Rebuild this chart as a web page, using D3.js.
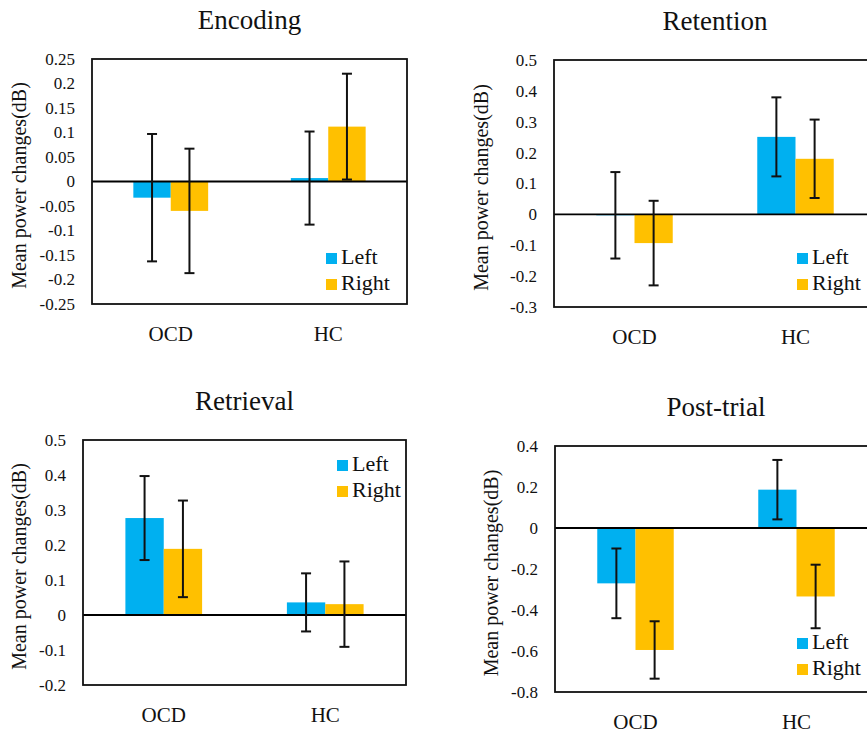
<!DOCTYPE html>
<html>
<head>
<meta charset="utf-8">
<script src="https://cdn.jsdelivr.net/npm/d3@7"></script>
<style>
  body { margin: 0; background: #fff; }
  svg { display: block; overflow: hidden; }
  text { font-family: 'Liberation Serif', 'Times New Roman', serif; fill: #111; }
</style>
</head>
<body>
<svg id="chart" width="867" height="733"></svg>
<script>
const categories = ['OCD', 'HC'];
const series = ['Left', 'Right'];
const seriesColors = ['#00B0F0', '#FFC000'];

// means and error bar half-lengths, per panel, [OCD, HC]
const encodingLeft = [-0.033, 0.007];
const encodingRight = [-0.06, 0.112];
const encodingLeftErr = [0.13, 0.095];
const encodingRightErr = [0.127, 0.108];
const encodingTicks = [0.25, 0.2, 0.15, 0.1, 0.05, 0, -0.05, -0.1, -0.15, -0.2, -0.25];

const retentionLeft = [-0.003, 0.251];
const retentionRight = [-0.093, 0.18];
const retentionLeftErr = [0.14, 0.128];
const retentionRightErr = [0.137, 0.127];
const retentionTicks = [0.5, 0.4, 0.3, 0.2, 0.1, 0, -0.1, -0.2, -0.3];

const retrievalLeft = [0.277, 0.036];
const retrievalRight = [0.189, 0.031];
const retrievalLeftErr = [0.12, 0.083];
const retrievalRightErr = [0.138, 0.122];
const retrievalTicks = [0.5, 0.4, 0.3, 0.2, 0.1, 0, -0.1, -0.2];

const postLeft = [-0.27, 0.187];
const postRight = [-0.595, -0.334];
const postLeftErr = [0.17, 0.145];
const postRightErr = [0.14, 0.155];
const postTicks = [0.4, 0.2, 0, -0.2, -0.4, -0.6, -0.8];

const yLabel = 'Mean power changes(dB)';
const serif = "'Liberation Serif', 'Times New Roman', serif";

const panels = [
  { title: 'Encoding', means: [encodingLeft, encodingRight], errs: [encodingLeftErr, encodingRightErr], ticks: encodingTicks,
    x: 92, y: 59, w: 315, h: 245, labelX: 26, legend: [326, 253] },
  { title: 'Retention', means: [retentionLeft, retentionRight], errs: [retentionLeftErr, retentionRightErr], ticks: retentionTicks,
    x: 554, y: 60, w: 322, h: 247, labelX: 488, legend: [797, 253] },
  { title: 'Retrieval', means: [retrievalLeft, retrievalRight], errs: [retrievalLeftErr, retrievalRightErr], ticks: retrievalTicks,
    x: 83, y: 440, w: 323, h: 245, labelX: 26, legend: [337, 460] },
  { title: 'Post-trial', means: [postLeft, postRight], errs: [postLeftErr, postRightErr], ticks: postTicks,
    x: 555, y: 446, w: 322, h: 246, labelX: 498, legend: [797, 638] }
];

const svg = d3.select('#chart');
const fmt = d => String(+d.toFixed(2));

panels.forEach(p => {
  const g = svg.append('g').attr('font-family', serif);

  const x0 = d3.scaleBand().domain(categories).range([p.x, p.x + p.w]);
  const groupW = x0.bandwidth() * 0.475;
  const x1 = d3.scaleBand().domain(series)
      .range([x0.bandwidth() / 2 - groupW / 2, x0.bandwidth() / 2 + groupW / 2]);
  const y = d3.scaleLinear().domain(d3.extent(p.ticks)).range([p.y + p.h, p.y]);

  // title
  g.append('text')
      .attr('x', p.x + p.w / 2)
      .attr('y', p.y - 30)
      .attr('text-anchor', 'middle')
      .style('font-family', serif)
      .style('font-size', '27px')
      .text(p.title);

  // y axis, labels only
  const yAxis = g.append('g')
      .attr('transform', `translate(${p.x},0)`)
      .call(d3.axisLeft(y).tickValues(p.ticks).tickFormat(fmt).tickSize(0).tickPadding(17))
      .attr('font-family', serif);
  yAxis.select('.domain').remove();
  yAxis.selectAll('text')
      .style('font-size', '17px')
      .style('font-family', serif)
      .attr('fill', '#111');

  // x axis, category labels only
  const xAxis = g.append('g')
      .attr('transform', `translate(0,${p.y + p.h})`)
      .call(d3.axisBottom(x0).tickSize(0).tickPadding(22))
      .attr('font-family', serif);
  xAxis.select('.domain').remove();
  xAxis.selectAll('text')
      .style('font-size', '21px')
      .style('font-family', serif)
      .attr('fill', '#111');

  g.append('text')
      .attr('transform', `translate(${p.labelX},${p.y + p.h / 2 + 4}) rotate(-90)`)
      .attr('text-anchor', 'middle')
      .style('font-family', serif)
      .style('font-size', '20px')
      .text(yLabel);

  // bars
  const rows = [];
  series.forEach((s, si) => {
    categories.forEach((c, ci) => {
      rows.push({ s, si, c, v: p.means[si][ci], e: p.errs[si][ci] });
    });
  });

  g.selectAll('rect.bar')
      .data(rows)
      .enter()
      .append('rect')
      .attr('class', 'bar')
      .attr('x', d => x0(d.c) + x1(d.s))
      .attr('y', d => y(Math.max(0, d.v)))
      .attr('width', x1.bandwidth())
      .attr('height', d => Math.abs(y(d.v) - y(0)))
      .attr('fill', d => seriesColors[d.si]);

  // zero line and frame
  g.append('line')
      .attr('x1', p.x).attr('x2', p.x + p.w)
      .attr('y1', y(0)).attr('y2', y(0))
      .attr('stroke', '#000')
      .attr('stroke-width', 1.8);

  g.append('rect')
      .attr('x', p.x).attr('y', p.y)
      .attr('width', p.w).attr('height', p.h)
      .attr('fill', 'none')
      .attr('stroke', '#111')
      .attr('stroke-width', 1.8);

  // error bars
  const eb = g.selectAll('g.err')
      .data(rows)
      .enter()
      .append('g')
      .attr('class', 'err')
      .attr('transform', d => `translate(${x0(d.c) + x1(d.s) + x1.bandwidth() / 2},0)`);
  eb.append('line')
      .attr('y1', d => y(d.v + d.e)).attr('y2', d => y(d.v - d.e))
      .attr('stroke', '#111').attr('stroke-width', 2);
  eb.append('line')
      .attr('x1', -5).attr('x2', 5)
      .attr('y1', d => y(d.v + d.e)).attr('y2', d => y(d.v + d.e))
      .attr('stroke', '#111').attr('stroke-width', 2);
  eb.append('line')
      .attr('x1', -5).attr('x2', 5)
      .attr('y1', d => y(d.v - d.e)).attr('y2', d => y(d.v - d.e))
      .attr('stroke', '#111').attr('stroke-width', 2);

  // legend
  const legend = g.append('g')
      .attr('transform', `translate(${p.legend[0]},${p.legend[1]})`)
      .selectAll('g')
      .data(series)
      .enter()
      .append('g')
      .attr('transform', (d, i) => `translate(0,${i * 26})`);
  legend.append('rect')
      .attr('width', 11)
      .attr('height', 11)
      .attr('fill', (d, i) => seriesColors[i]);
  legend.append('text')
      .attr('x', 15)
      .attr('y', 11)
      .style('font-family', serif)
      .style('font-size', '22px')
      .text(d => d);
});
</script>
</body>
</html>
